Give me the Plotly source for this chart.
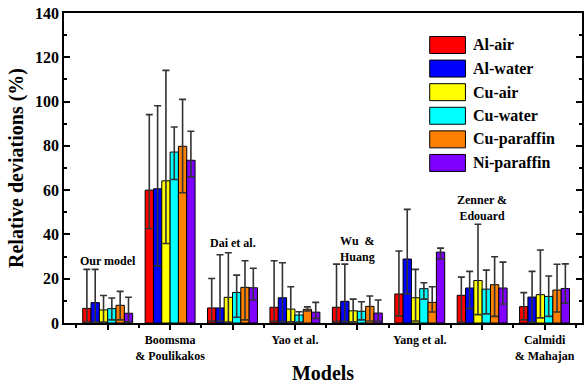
import plotly.graph_objects as go

models = ["Our model", "Boomsma & Poulikakos", "Dai et al.", "Yao et al.",
          "Wu & Huang", "Yang et al.", "Zenner & Edouard", "Calmidi & Mahajan"]
series = ["Al-air", "Al-water", "Cu-air", "Cu-water", "Cu-paraffin", "Ni-paraffin"]
colors = ["#FF0000", "#0000FF", "#FFFF00", "#00FFFF", "#FF8000", "#8000FF"]

# bar value, upper end of error bar, lower end of error bar (per series, per model)
values = {
    "Al-air":      [6.6, 60.0, 6.8, 7.1, 7.1, 13.1, 12.5, 7.4],
    "Al-water":    [9.2, 60.6, 6.8, 11.4, 9.8, 28.9, 15.8, 11.7],
    "Cu-air":      [5.9, 64.2, 11.6, 6.3, 5.5, 11.4, 19.2, 12.8],
    "Cu-water":    [6.5, 77.2, 13.8, 3.6, 5.3, 15.5, 15.3, 12.0],
    "Cu-paraffin": [8.0, 79.8, 16.1, 6.2, 7.5, 9.3, 17.3, 14.9],
    "Ni-paraffin": [4.4, 73.5, 15.9, 4.9, 4.5, 32.0, 15.8, 15.6],
}
upper = {
    "Al-air":      [24.2, 94.1, 20.1, 28.1, 26.6, 32.5, 20.7, 13.7],
    "Al-water":    [24.2, 98.1, 30.8, 27.2, 26.6, 51.3, 23.3, 23.3],
    "Cu-air":      [12.4, 114.1, 31.7, 16.4, 10.8, 24.2, 44.6, 33.0],
    "Cu-water":    [11.3, 88.5, 21.6, 5.1, 9.6, 18.2, 23.9, 21.2],
    "Cu-paraffin": [14.3, 101.0, 28.1, 7.3, 12.2, 16.4, 29.9, 26.5],
    "Ni-paraffin": [11.6, 86.6, 24.7, 9.3, 10.4, 33.8, 27.5, 26.7],
}
lower = {
    "Al-air":      [0.4, 42.7, 0.9, 0.8, 0.6, 3.2, 0.3, 1.4],
    "Al-water":    [0.4, 25.8, 0.9, 0.6, 0.6, 13.2, 6.5, 0.4],
    "Cu-air":      [0.4, 35.9, 0.4, 0.5, 0.5, 0.9, 3.8, 2.3],
    "Cu-water":    [1.4, 64.8, 2.6, 0.4, 1.4, 10.8, 4.1, 3.0],
    "Cu-paraffin": [1.4, 58.8, 1.4, 5.4, 0.9, 5.0, 3.0, 5.0],
    "Ni-paraffin": [0.5, 66.0, 10.4, 2.1, 0.9, 28.9, 8.6, 8.9],
}

tick_text = ["", "Boomsma<br>& Poulikakos", "", "Yao et al.", "",
             "Yang et al.", "", "Calmidi<br>& Mahajan"]
above_labels = {0: ("Our model", 28.0), 2: ("Dai et al.", 36.1),
                4: ("Wu  &<br>Huang", 33.6), 6: ("Zenner &<br>Edouard", 51.9)}

FONT = "Liberation Serif, Times New Roman, serif"
x_idx = list(range(len(models)))

fig = go.Figure()
for s, c in zip(series, colors):
    v = values[s]
    up = [u - a for u, a in zip(upper[s], v)]
    dn = [a - l for a, l in zip(v, lower[s])]
    fig.add_trace(go.Bar(
        x=x_idx, y=v, name=s, showlegend=False,
        marker=dict(color=c, line=dict(color="black", width=1)),
        error_y=dict(type="data", symmetric=False, array=up, arrayminus=dn,
                     color="#333333", thickness=1.6, width=3.5),
    ))

# group labels placed above the bars
for i, (txt, yv) in above_labels.items():
    fig.add_annotation(x=i, y=yv, xref="x", yref="y", text="<b>%s</b>" % txt,
                       showarrow=False, font=dict(family=FONT, size=12, color="black"),
                       yanchor="middle")

# manual legend
for k, (s, c) in enumerate(zip(series, colors)):
    yc = 0.8968 - k * 0.0761
    fig.add_shape(type="rect", xref="paper", yref="paper",
                  x0=0.706, x1=0.775, y0=yc - 0.0274, y1=yc + 0.0274,
                  fillcolor=c, line=dict(color="black", width=1))
    fig.add_annotation(x=0.786, y=yc, xref="paper", yref="paper", text="<b>%s</b>" % s,
                       showarrow=False, xanchor="left", yanchor="middle",
                       font=dict(family=FONT, size=16, color="black"))

fig.update_layout(
    width=585, height=384,
    margin=dict(l=64, r=1, t=13, b=61),
    paper_bgcolor="white", plot_bgcolor="white",
    barmode="group", bargap=0.2, bargroupgap=0,
    font=dict(family=FONT, color="black"),
    xaxis=dict(
        range=[-0.7, 7.6], tickmode="array", tickvals=x_idx,
        ticktext=["<b>%s</b>" % t if t else "" for t in tick_text],
        tickfont=dict(family=FONT, size=12),
        ticks="outside", ticklen=5, tickwidth=1.5, tickcolor="black",
        minor=dict(tickmode="array", tickvals=[i - 0.5 for i in range(len(models) + 1)],
                   ticks="outside", ticklen=3, tickcolor="black"),
        showline=True, linecolor="black", linewidth=1.5, mirror=True,
        showgrid=False, zeroline=False,
        title=dict(text="<b>Models</b>", font=dict(family=FONT, size=20), standoff=4),
    ),
    xaxis2=dict(
        overlaying="x", side="top", anchor="y", range=[-0.7, 7.6],
        tickmode="array", tickvals=x_idx, showticklabels=False,
        ticks="inside", ticklen=5, tickwidth=1.5, tickcolor="black",
        minor=dict(tickmode="array", tickvals=[i - 0.5 for i in range(len(models) + 1)],
                   ticks="inside", ticklen=3, tickcolor="black"),
        showgrid=False, zeroline=False, showline=False,
    ),
    yaxis=dict(
        range=[0, 140], tickmode="array", tickvals=list(range(0, 141, 20)),
        ticktext=["<b>%d</b>" % t for t in range(0, 141, 20)],
        tickfont=dict(family=FONT, size=16),
        ticks="inside", ticklen=6, tickwidth=1.5, tickcolor="black",
        minor=dict(dtick=10, ticks="inside", ticklen=3, tickcolor="black"),
        showline=True, linecolor="black", linewidth=1.5, mirror="allticks",
        showgrid=False, zeroline=False,
        title=dict(text="<b>Relative deviations (%)</b>", font=dict(family=FONT, size=20),
                   standoff=6),
    ),
)

fig.write_html("out.html")
